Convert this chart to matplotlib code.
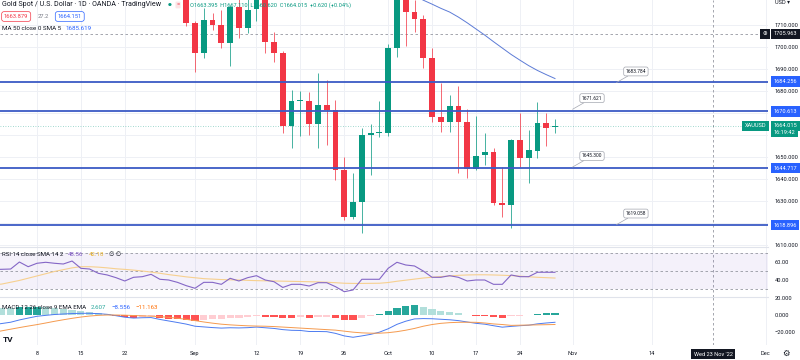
import matplotlib
matplotlib.use("Agg")
import matplotlib.pyplot as plt
from matplotlib.lines import Line2D

plt.rcParams['font.family'] = ['Roboto', 'DejaVu Sans']

# ---------------- data ----------------
# x = trading-day index, 0 = Mon 1 Aug 2022
candle_idx = list(range(22, 65))   # 31 Aug .. 28 Oct 2022
c_open = [1724.0, 1710.8, 1697.1, 1712.3, 1710.0, 1701.7, 1718.1, 1708.5, 1717.2, 1725.0,
          1702.4, 1697.1, 1664.1, 1675.4, 1675.4, 1664.8, 1673.6, 1671.3, 1643.9, 1622.7,
          1629.5, 1659.9, 1660.7, 1660.7, 1699.4, 1725.0, 1716.1, 1712.6, 1694.8, 1668.0,
          1666.0, 1673.1, 1666.0, 1644.4, 1650.8, 1652.0, 1628.8, 1628.0, 1657.6, 1649.3,
          1652.7, 1665.2, 1663.395]
c_high = [1726.5, 1712.0, 1717.6, 1715.3, 1717.0, 1719.0, 1729.0, 1726.0, 1735.0, 1729.0,
          1706.7, 1698.2, 1680.4, 1680.1, 1679.6, 1688.0, 1684.9, 1675.8, 1650.0, 1642.4,
          1662.9, 1664.9, 1675.4, 1701.2, 1729.6, 1730.0, 1721.5, 1714.6, 1699.7, 1683.4,
          1678.1, 1682.2, 1671.6, 1668.5, 1660.7, 1654.1, 1645.4, 1657.9, 1669.8, 1662.2,
          1675.1, 1669.8, 1667.110]
c_low = [1709.7, 1688.7, 1694.8, 1707.7, 1699.7, 1691.5, 1703.9, 1706.5, 1712.0, 1697.1,
         1693.3, 1660.7, 1654.1, 1659.6, 1659.9, 1653.8, 1655.3, 1639.4, 1621.2, 1621.8,
         1615.1, 1641.7, 1659.1, 1659.6, 1695.3, 1700.6, 1706.7, 1690.5, 1666.0, 1661.1,
         1661.4, 1642.4, 1640.4, 1644.0, 1646.2, 1628.0, 1622.7, 1617.7, 1645.4, 1638.2,
         1649.5, 1654.9, 1660.620]
c_close = [1710.8, 1697.1, 1712.3, 1710.0, 1701.7, 1718.1, 1708.5, 1716.8, 1725.0, 1702.4,
           1697.1, 1664.1, 1675.4, 1675.8, 1664.8, 1673.6, 1671.3, 1643.9, 1622.7, 1629.5,
           1659.9, 1660.7, 1660.9, 1699.4, 1725.0, 1716.1, 1712.6, 1694.8, 1668.0, 1666.0,
           1673.1, 1666.0, 1644.4, 1650.5, 1652.0, 1628.8, 1628.0, 1657.6, 1649.3, 1653.1,
           1665.2, 1662.9, 1664.015]

ma50_idx = list(range(48, 65))
ma50 = [1723.5, 1721.3, 1719.5, 1717.6, 1715.9, 1713.6, 1711.0, 1708.2, 1705.4, 1702.4,
        1699.5, 1696.6, 1694.0, 1691.5, 1689.3, 1687.4, 1685.619]

ind_idx = list(range(0, 65))
rsi = [51.7, 51.9, 52.2, 60.0, 54.8, 58.6, 59.7, 58.6, 57.8, 61.1,
       53.0, 52.2, 47.4, 45.6, 42.6, 38.9, 43.0, 43.7, 46.3, 40.8,
       40.0, 37.4, 33.7, 30.8, 37.4, 37.4, 35.2, 41.9, 38.9, 42.6,
       44.8, 40.0, 38.1, 31.7, 35.2, 35.2, 33.3, 37.0, 37.0, 32.6,
       27.0, 28.9, 40.8, 40.8, 40.8, 53.0, 59.7, 56.7, 55.6, 50.0,
       43.0, 43.0, 44.8, 43.0, 38.9, 40.0, 40.0, 35.2, 35.2, 45.6,
       43.7, 43.7, 48.6, 48.6, 48.56]
rsi_ma = [34.5, 35.5, 37.5, 39.5, 42.0, 44.5, 47.0, 49.5, 51.5, 53.5,
          54.8, 54.8, 54.3, 53.5, 52.5, 51.8, 51.0, 50.0, 48.8, 47.5,
          46.0, 44.8, 43.5, 42.5, 41.5, 41.0, 40.5, 40.2, 40.0, 39.6,
          39.3, 39.1, 38.9, 38.7, 38.5, 38.3, 38.1, 37.9, 37.5, 37.0,
          36.4, 36.2, 36.2, 36.3, 36.4, 37.2, 38.6, 39.8, 41.0, 42.2,
          43.1, 43.8, 44.5, 45.2, 45.6, 45.8, 45.8, 45.6, 45.3, 44.9,
          44.3, 43.6, 43.0, 42.6, 42.18]
macd_hist = [9.0, 8.6, 8.2, 9.0, 9.4, 9.8, 9.0, 8.0, 6.8, 5.6,
             4.4, 3.2, 2.0, 0.8, -0.8, -2.4, -3.0, -2.2, -1.6, -3.3,
             -4.3, -5.0, -5.6, -6.6, -5.8, -5.2, -4.6, -3.4, -3.0, -2.2,
             -1.2, -1.8, -2.2, -3.0, -3.2, -2.8, -3.4, -2.8, -2.4, -3.8,
             -5.6, -6.0, -3.6, -1.4, 1.2, 4.6, 8.6, 10.6, 11.2, 9.0,
             6.8, 4.8, 3.4, 2.0, 0.3, -1.2, -1.4, -2.1, -3.1, -1.2,
             -0.6, -0.2, 1.2, 2.0, 2.607]
macd_line = [-11.5, -10.0, -8.5, -5.8, -3.6, -1.5, -0.4, 0.6, 1.2, 1.7,
             2.0, 2.0, 1.6, 0.8, -0.8, -2.6, -3.6, -3.2, -3.0, -5.2,
             -7.0, -8.8, -10.7, -13.2, -14.0, -14.8, -15.4, -15.0, -15.2, -14.9,
             -14.2, -15.0, -15.8, -17.2, -18.0, -18.2, -19.4, -19.4, -19.6, -21.6,
             -24.6, -26.2, -24.6, -22.8, -20.2, -16.2, -11.0, -7.3, -4.6, -4.2,
             -4.4, -5.0, -5.6, -6.6, -8.2, -9.8, -10.8, -12.6, -14.3, -13.4,
             -12.6, -12.0, -10.4, -9.4, -8.556]
macd_signal = [-20.5, -18.6, -16.7, -14.8, -13.0, -11.3, -9.4, -7.4, -5.6, -3.9,
               -2.4, -1.2, -0.4, 0.0, 0.0, -0.2, -0.6, -1.0, -1.4, -1.9,
               -2.7, -3.8, -5.1, -6.6, -8.2, -9.6, -10.8, -11.6, -12.2, -12.7,
               -13.0, -13.2, -13.6, -14.2, -14.8, -15.4, -16.0, -16.6, -17.2, -17.8,
               -19.0, -20.2, -21.0, -21.4, -21.4, -20.8, -19.6, -17.9, -15.8, -13.2,
               -11.2, -9.8, -9.0, -8.6, -8.5, -8.6, -9.4, -10.5, -11.2, -12.2,
               -12.0, -11.8, -11.6, -11.4, -11.163]

levels = [1684.256, 1670.613, 1644.717, 1618.896]
level_labels = ['1684.256', '1670.613', '1644.717', '1618.896']
callout_x = [71, 66, 66, 71]
callout_price = [1683.784, 1671.621, 1645.300, 1619.058]
callout_labels = ['1683.784', '1671.621', '1645.300', '1619.058']
crosshair_x = 82
crosshair_price = 1705.963
last_price = 1664.015

date_ticks = [5, 10, 15, 23, 30, 35, 40, 45, 50, 55, 60, 66, 75, 88]
date_labels = ['8', '15', '22', 'Sep', '12', '19', '26', 'Oct', '10', '17', '24', 'Nov', '14', 'Dec']
price_ticks = [1610, 1620, 1630, 1640, 1650, 1660, 1670, 1680, 1690, 1700, 1710]
price_tick_labels = ['1610.000', '', '1630.000', '1640.000', '1650.000', '', '',
                     '1680.000', '1690.000', '1700.000', '1710.000']
rsi_ticks = [40, 60]
rsi_tick_labels = ['40.00', '60.00']
macd_ticks = [-20, 0, 20]
macd_tick_labels = ['\u221220.000', '0.000', '20.000']

# ---------------- figure ----------------
W, H = 800, 360
FS = 4.1
TXT = '#131722'
fig = plt.figure(figsize=(8, 3.6), dpi=100)
fig.patch.set_facecolor('white')


def px_axes(x0, y0, x1, y1):
    return fig.add_axes([x0 / W, 1 - y1 / H, (x1 - x0) / W, (y1 - y0) / H])


PR = 768
ax = px_axes(0, 0, PR, 247)
ax_rsi = px_axes(0, 247, PR, 297)
ax_macd = px_axes(0, 297, PR, 345)

for a in (ax, ax_rsi, ax_macd):
    a.set_xlim(0.79, 88.26)
    for s in a.spines.values():
        s.set_visible(False)
    a.yaxis.tick_right()
    a.tick_params(axis='y', length=0, pad=5, labelsize=FS, labelcolor=TXT)
    a.tick_params(axis='x', length=0, labelsize=FS, labelcolor=TXT)
    a.set_xticks(date_ticks)
    a.grid(axis='x', color='#EEF0F5', lw=0.7)
    a.set_axisbelow(True)
    a.set_facecolor('white')
    a.axvline(crosshair_x, color='#9598A1', lw=0.6, ls=(0, (3, 3)), zorder=1)

ax.set_xticklabels([])
ax_rsi.set_xticklabels([])
ax_macd.set_xticklabels(date_labels)
ax_macd.tick_params(axis='x', pad=4.3)

# main price panel
ax.set_ylim(1608.88, 1721.39)
ax.set_yticks(price_ticks)
ax.set_yticklabels(price_tick_labels)
ax.grid(axis='y', color='#EEF0F5', lw=0.7)

up, dn = '#089981', '#F23645'
cols = [up if c >= o else dn for o, c in zip(c_open, c_close)]
bottoms = [min(o, c) for o, c in zip(c_open, c_close)]
heights = [max(abs(c - o), 0.35) for o, c in zip(c_open, c_close)]
ax.vlines(candle_idx, c_low, c_high, colors=cols, lw=0.7, alpha=0.75, zorder=2)
ax.bar(candle_idx, heights, bottom=bottoms, width=0.66, color=cols, lw=0, zorder=3)

ax.plot(ma50_idx, ma50, color='#5C7BD6', lw=0.7, zorder=3)
ax.axhline(crosshair_price, color='#9598A1', lw=0.6, ls=(0, (3, 3)), zorder=1)
ax.axhline(last_price, color='#089981', lw=0.6, ls=(0, (1, 2)), alpha=0.5, zorder=1)
for lv in levels:
    ax.axhline(lv, color='#3B5BC5', lw=1.3, zorder=4)

for cx, cp, cl in zip(callout_x, callout_price, callout_labels):
    ax.annotate(cl, xy=(cx, cp), xytext=(14, 8), textcoords='offset points',
                fontsize=3.5, color=TXT, ha='center', va='center', zorder=6,
                bbox=dict(boxstyle='round,pad=0.4,rounding_size=0.4', fc='white', ec='#A3A6AF', lw=0.5),
                arrowprops=dict(arrowstyle='-', color='#A3A6AF', lw=0.5, shrinkA=0, shrinkB=0))


def tag(a, y, s, fc, x_px=773.5, ha='left', dy=0):
    a.annotate(s, xy=(x_px / PR, y), xycoords=a.get_yaxis_transform(), xytext=(0, dy),
               textcoords='offset points', ha=ha, va='center', fontsize=FS, color='white',
               annotation_clip=False, zorder=10,
               bbox=dict(boxstyle='square,pad=0.45', fc=fc, ec='none'))


for lv, ll in zip(levels, level_labels):
    tag(ax, lv, ll, '#2962FF')
tag(ax, crosshair_price, '1705.963', '#131722')
tag(ax, crosshair_price, '\u2295', '#131722', x_px=765, ha='center')
tag(ax, last_price, '1664.015', '#089981')
tag(ax, last_price, '16:19:42', '#089981', dy=-4.6)
tag(ax, last_price, 'XAUUSD', '#089981', x_px=766, ha='right')

# RSI panel
ax_rsi.set_ylim(21.1, 76.7)
ax_rsi.set_yticks(rsi_ticks)
ax_rsi.set_yticklabels(rsi_tick_labels)
ax_rsi.axhspan(30, 70, color='#7E57C2', alpha=0.08, lw=0)
for lv in (70, 50, 30):
    ax_rsi.axhline(lv, color='#9598A1', lw=0.6, ls=(0, (3, 3)))
ax_rsi.plot(ind_idx, rsi_ma, color='#F7D08F', lw=0.8)
ax_rsi.plot(ind_idx, rsi, color='#8466C6', lw=0.8)

# MACD panel
ax_macd.set_ylim(-35.3, 21.2)
ax_macd.set_yticks(macd_ticks)
ax_macd.set_yticklabels(macd_tick_labels)
hcols = []
for k, v in enumerate(macd_hist):
    prev = macd_hist[k - 1] if k > 0 else v
    if v >= 0:
        hcols.append('#26A69A' if v >= prev else '#B2DFDB')
    else:
        hcols.append('#FF5252' if v <= prev else '#FFCDD2')
ax_macd.bar(ind_idx, macd_hist, width=0.82, color=hcols, lw=0, zorder=2)
ax_macd.plot(ind_idx, macd_line, color='#4C7BF0', lw=0.7, zorder=3)
ax_macd.plot(ind_idx, macd_signal, color='#F59A4E', lw=0.7, zorder=3)

ax_macd.annotate("Wed 23 Nov '22", xy=(crosshair_x, 0), xycoords=('data', 'axes fraction'),
                 xytext=(0, -6.5), textcoords='offset points', ha='center', va='center',
                 fontsize=FS, color='white', annotation_clip=False,
                 bbox=dict(boxstyle='square,pad=0.5', fc='#131722', ec='none'))

# separators
for yy in (247, 297):
    fig.add_artist(Line2D([0, PR / W], [1 - yy / H, 1 - yy / H], color='#E0E3EB', lw=0.8))

# ---------------- legends ----------------
renderer = fig.canvas.get_renderer()


def chain(x, y, parts, fs=4.5):
    cur = x
    for p in parts:
        s, color, gap = p[0], p[1], p[2]
        kw = p[3] if len(p) > 3 else {}
        t = fig.text(cur / W, 1 - y / H, s, color=color, fontsize=fs, ha='left', va='center', **kw)
        bb = t.get_window_extent(renderer)
        cur = bb.x1 + gap


fig.text(2 / W, 1 - 5 / H, 'Gold Spot / U.S. Dollar \u00b7 1D \u00b7 OANDA \u00b7 TradingView',
         fontsize=5.1, color=TXT, ha='left', va='center')
fig.text(170 / W, 1 - 5 / H, '\u25cf', fontsize=3.2, color='#089981', ha='center', va='center')
fig.text(178 / W, 1 - 5 / H, '=', fontsize=4.2, color='#F23645', ha='center', va='center',
         bbox=dict(boxstyle='round,pad=0.15', fc='#FCE4E6', ec='none'))
fig.text(190 / W, 1 - 5 / H, 'O1663.395  H1667.110  L1660.620  C1664.015  +0.620 (+0.04%)',
         fontsize=4.1, color='#089981', ha='left', va='center')

chain(4, 16.5, [
    ('1663.879', '#F23645', 9, {'bbox': dict(boxstyle='round,pad=0.4', fc='white', ec='#F23645', lw=0.5)}),
    ('27.2', '#787B86', 9),
    ('1664.151', '#2962FF', 0, {'bbox': dict(boxstyle='round,pad=0.4', fc='white', ec='#2962FF', lw=0.5)}),
], fs=4.2)
chain(2, 28.5, [('MA 50 close 0 SMA 5', TXT, 4), ('1685.619', '#2962FF', 0)], fs=4.5)
chain(2, 255, [('RSI 14 close SMA 14 2', TXT, 5), ('48.56', '#7E57C2', 5),
               ('42.18', '#E8B32E', 5), ('\u2205 \u2205', TXT, 0)], fs=4.4)
chain(2, 307.5, [('MACD 12 26 close 9 EMA EMA', TXT, 5), ('2.607', '#26A69A', 5),
                 ('\u22128.556', '#2962FF', 5), ('\u221211.163', '#FF6D00', 0)], fs=4.4)

fig.text(8 / W, 1 - 339 / H, 'TV', fontsize=6, fontweight='bold', color=TXT, ha='center', va='center')
fig.text(775 / W, 1 - 3 / H, 'USD \u25be', fontsize=FS, color=TXT, ha='left', va='center')
fig.text(786 / W, 1 - 354 / H, '\u2699', fontsize=6, color=TXT, ha='center', va='center')

fig.savefig('out.png', dpi=100, facecolor='white')
